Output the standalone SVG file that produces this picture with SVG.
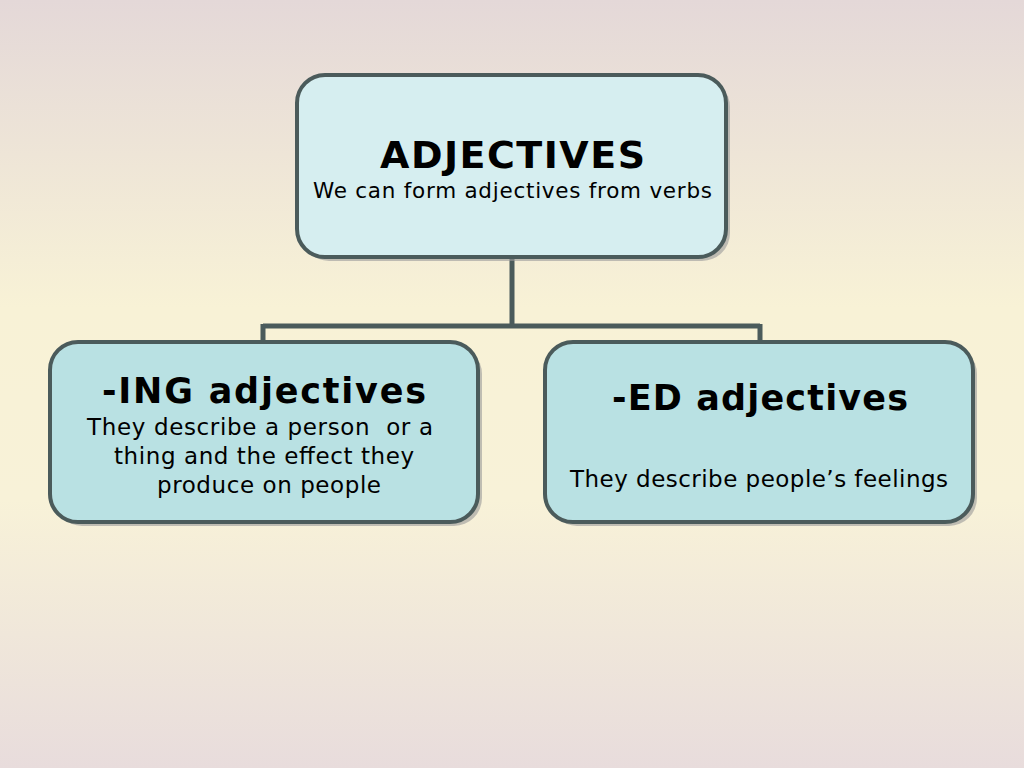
<svg xmlns="http://www.w3.org/2000/svg" width="1024" height="768" viewBox="0 0 1024 768">
<defs>
<linearGradient id="bg" x1="0" y1="0" x2="0" y2="1">
<stop offset="0" stop-color="#e4d8d8"/>
<stop offset="0.4" stop-color="#f8f2d6"/>
<stop offset="0.65" stop-color="#f8f2d8"/>
<stop offset="1" stop-color="#e8dcdc"/>
</linearGradient>
</defs>
<style>
.shadow{fill:#9a9a9a;opacity:0.6}
.box{stroke:#4b5b5b;stroke-width:4}
.top{fill:#d6eef0}
.sub{fill:#b9e1e3}
.conn{fill:none;stroke:#4b5b5b;stroke-width:5}
.t{font-family:"DejaVu Sans",Verdana,sans-serif;fill:#000;text-anchor:middle}
.h{font-weight:bold}
</style>
<rect width="1024" height="768" fill="url(#bg)"/>
<g id="connectors">
<path class="conn" d="M512 257 V326 M263 326 H760 M263 324 V342 M760 324 V342"/>
</g>
<g id="node-adjectives">
<rect class="shadow" x="301" y="79" width="429" height="182" rx="28"/>
<rect class="box top" x="297" y="75" width="429" height="182" rx="28"/>
<text class="t h" x="512.5" y="168" font-size="38" textLength="265" lengthAdjust="spacing">ADJECTIVES</text>
<text class="t" x="512.5" y="198" font-size="21.5" textLength="399" lengthAdjust="spacing">We can form adjectives from verbs</text>
</g>
<g id="node-ing">
<rect class="shadow" x="54" y="346" width="428" height="180" rx="28"/>
<rect class="box sub" x="50" y="342" width="428" height="180" rx="28"/>
<text class="t h" x="264" y="403" font-size="35" textLength="324" lengthAdjust="spacing">-ING adjectives</text>
<text class="t" x="260" y="435" font-size="23" textLength="346" lengthAdjust="spacing" xml:space="preserve">They describe a person  or a</text>
<text class="t" x="264" y="464" font-size="23" textLength="300" lengthAdjust="spacing">thing and the effect they</text>
<text class="t" x="269" y="493" font-size="23" textLength="224" lengthAdjust="spacing">produce on people</text>
</g>
<g id="node-ed">
<rect class="shadow" x="549" y="346" width="428" height="180" rx="28"/>
<rect class="box sub" x="545" y="342" width="428" height="180" rx="28"/>
<text class="t h" x="760" y="410" font-size="35" textLength="296" lengthAdjust="spacing">-ED adjectives</text>
<text class="t" x="759" y="487" font-size="23" textLength="378" lengthAdjust="spacing">They describe people’s feelings</text>
</g>
</svg>
